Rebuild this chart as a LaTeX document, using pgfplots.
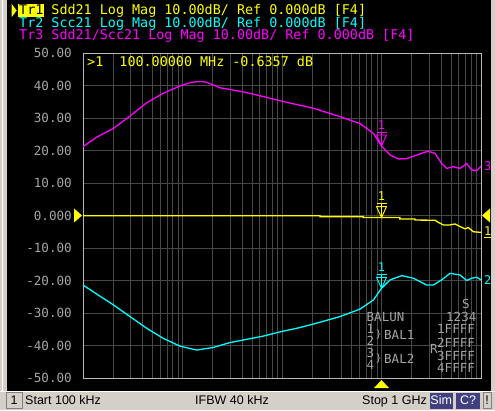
\documentclass[border=0pt]{standalone}
\usepackage{fontspec}
\setmainfont{Liberation Sans}
\newfontfamily\mono{DejaVu Sans Mono}
\usepackage{pgfplots}
\pgfplotsset{compat=1.18}
\definecolor{gridc}{RGB}{72,72,72}
\definecolor{framec}{RGB}{185,185,185}
\definecolor{lbl}{RGB}{165,165,165}
\definecolor{winbg}{RGB}{212,208,200}
\definecolor{simblue}{RGB}{64,64,128}
\definecolor{tyel}{RGB}{255,255,0}
\definecolor{tcya}{RGB}{0,255,255}
\definecolor{tmag}{RGB}{255,0,255}
\begin{document}
\begin{tikzpicture}[x=1pt,y=1pt]
\path[use as bounding box] (0,0) rectangle (495,410);
\fill[black] (0,0) rectangle (495,410);
\fill[winbg] (0,0) rectangle (7,410);
\draw[white,line width=1pt] (2.5,19) -- (2.5,410);
\fill[winbg] (491,0) rectangle (495,410);
\fill[winbg] (0,0) rectangle (495,19);
\draw[white,line width=0.8pt] (0,18.6) -- (495,18.6);
% status bar items
\draw[gray,line width=0.8pt] (6,1.5) rectangle (22,17.5);
\node[anchor=base,inner sep=0pt,font=\fontsize{12.5}{13}\selectfont] at (14,5.7) {1};
\node[anchor=base west,inner sep=0pt,font=\fontsize{12.5}{13}\selectfont] at (25,5.7) {Start 100 kHz};
\node[anchor=base west,inner sep=0pt,font=\fontsize{12.5}{13}\selectfont] at (195,5.7) {IFBW 40 kHz};
\node[anchor=base west,inner sep=0pt,font=\fontsize{12.5}{13}\selectfont] at (362,5.7) {Stop 1 GHz};
\fill[simblue] (430,1.5) rectangle (452.5,17.5);
\node[anchor=base,inner sep=0pt,text=white,font=\fontsize{12.5}{13}\selectfont] at (441.2,5.7) {Sim};
\fill[simblue] (456,1.5) rectangle (480,17.5);
\node[anchor=base,inner sep=0pt,text=white,font=\fontsize{12.5}{13}\selectfont] at (468,5.7) {C?};
\draw[gray,line width=0.8pt] (483,1.5) rectangle (491,17.5);
\node[anchor=base,inner sep=0pt,font=\fontsize{12.5}{13}\selectfont] at (487,5.7) {!};

\begin{axis}[
  at={(83pt,32pt)}, anchor=south west,
  width=398pt, height=325pt, scale only axis,
  xmode=log, xmin=1e5, xmax=1e9, ymin=-50, ymax=50,
  xtick={1e5,1e6,1e7,1e8,1e9},
  minor xtick={2e5,3e5,4e5,5e5,6e5,7e5,8e5,9e5,2e6,3e6,4e6,5e6,6e6,7e6,8e6,9e6,2e7,3e7,4e7,5e7,6e7,7e7,8e7,9e7,2e8,3e8,4e8,5e8,6e8,7e8,8e8,9e8},
  ytick={-50,-40,...,50},
  xticklabels={},
  yticklabels={-50.00,-40.00,-30.00,-20.00,-10.00,0.000,10.00,20.00,30.00,40.00,50.00},
  yticklabel style={text=lbl,font=\mono\fontsize{12.6}{13}\selectfont,anchor=east,inner sep=0pt,xshift=-11pt},
  xmajorgrids, xminorgrids, ymajorgrids,
  major grid style={draw=gridc,line width=0.9pt},
  minor grid style={draw=gridc,line width=0.9pt},
  major tick length=0pt, minor tick length=0pt,
  tick style={draw=none},
  axis line style={draw=framec,line width=0.9pt},
  axis background/.style={fill=black},
  clip=false,
]
% Tr3 Sdd21/Scc21 (magenta)
\addplot[tmag,line width=1.3pt] coordinates {
(1e5,21.2)(1.37e5,24.1)(2.02e5,26.8)(2.97e5,30.6)(4.37e5,34.7)(6.41e5,37.6)(9.44e5,39.85)(1.2e6,40.9)(1.39e6,41.2)(1.7e6,41.1)(2.04e6,40.15)(2.38e6,39.3)(3.0e6,38.8)(4.42e6,37.8)(6.49e6,36.6)(9.55e6,35.3)(2.07e7,33.0)(3.83e7,30.4)(4.47e7,29.7)(6.08e7,28.3)(8.28e7,25.3)(1.0e8,21.4)(1.22e8,18.6)(1.48e8,17.4)(1.79e8,17.5)(2.26e8,18.6)(2.95e8,19.8)(3.45e8,19.1)(4.03e8,16.0)(4.52e8,14.5)(5.27e8,15.0)(6.15e8,14.5)(7.18e8,16.0)(8.05e8,14.0)(9.06e8,13.8)(1e9,15.2)
};
% Tr1 Sdd21 (yellow)
\addplot[tyel,line width=1.3pt] coordinates {
(1e5,-0.05)(2.41e7,-0.05)(2.41e7,-0.35)(6.56e7,-0.35)(6.56e7,-0.64)(1.53e8,-0.64)(1.53e8,-1.05)(2.17e8,-1.05)(2.17e8,-1.4)(3.45e8,-1.45)(3.72e8,-2.1)(4.18e8,-2.9)(4.88e8,-2.9)(5.48e8,-2.6)(6.15e8,-3.4)(6.9e8,-4.1)(7.45e8,-3.7)(8.37e8,-5.0)(1e9,-5.2)
};
% Tr2 Scc21 (cyan)
\addplot[tcya,line width=1.3pt] coordinates {
(1e5,-21.4)(2.02e5,-27.5)(2.97e5,-31.1)(4.37e5,-34.7)(6.41e5,-37.8)(9.44e5,-40.2)(1.39e6,-41.4)(2.04e6,-40.6)(3.0e6,-39.1)(4.42e6,-38.1)(6.49e6,-37.1)(9.55e6,-35.8)(1.41e7,-34.7)(2.07e7,-33.4)(3.83e7,-31.1)(6.08e7,-28.8)(8.28e7,-26.0)(1.0e8,-22.4)(1.22e8,-19.8)(1.6e8,-18.5)(2.09e8,-19.3)(2.84e8,-21.4)(3.32e8,-21.4)(4.03e8,-19.8)(4.88e8,-17.8)(6.15e8,-18.3)(7.18e8,-20.0)(8.05e8,-19.3)(9.06e8,-19.0)(1e9,-19.8)
};
% markers at 100 MHz
\foreach \v/\c in {21.4/tmag,-0.64/tyel,-22.4/tcya}{
  \edef\tmp{\noexpand\draw[\c,line width=0.9pt] (axis cs:1e8,\v) -- ++(-5pt,11pt) -- ++(10pt,0pt) -- cycle;
    \noexpand\draw[\c,line width=0.9pt] (axis cs:1e8,\v) ++(-5pt,14pt) -- ++(10pt,0pt);
    \noexpand\draw[\c,line width=0.9pt] (axis cs:1e8,\v) -- ++(0pt,14pt);
    \noexpand\node[text=\c,font=\noexpand\mono\noexpand\fontsize{12}{12}\noexpand\selectfont,inner sep=0pt] at ([yshift=21pt]axis cs:1e8,\v) {1};}
  \tmp
}
% trace end labels
\node[anchor=west,inner sep=0pt,text=tmag,font=\mono\fontsize{12}{12}\selectfont] at ([xshift=3pt]axis cs:1e9,15.2) {3};
\node[anchor=west,inner sep=0pt,text=tyel,font=\mono\fontsize{12}{12}\selectfont] at ([xshift=3pt]axis cs:1e9,-5.2) {\underline{1}};
\node[anchor=west,inner sep=0pt,text=tcya,font=\mono\fontsize{12}{12}\selectfont] at ([xshift=3pt]axis cs:1e9,-19.8) {2};
% reference triangles at 0 dB
\fill[tyel] ([xshift=-1pt]axis cs:1e5,0) -- ++(-8pt,7pt) -- ++(0pt,-14pt) -- cycle;
\fill[tyel] ([xshift=1pt]axis cs:1e9,0) -- ++(8pt,7pt) -- ++(0pt,-14pt) -- cycle;
% stimulus marker at bottom
\fill[tyel] ([yshift=-2pt]axis cs:1e8,-50) -- ++(-7.5pt,-8pt) -- ++(15pt,0pt) -- cycle;
% marker readout
\node[anchor=base west,inner sep=0pt,text=tyel,font=\mono\fontsize{13.4}{14}\selectfont] at (rel axis cs:0,1) [xshift=4pt,yshift=-13.5pt] {>1\ \ 100.00000 MHz -0.6357 dB};
\end{axis}

% header
\fill[tyel] (11.7,406) -- (11.7,393) -- (16.7,399.5) -- cycle;
\fill[tyel] (18.3,393) rectangle (43.8,406.3);
\node[anchor=base west,inner sep=0pt,font=\mono\fontsize{13.4}{14}\selectfont] at (19,395) {\textcolor{black}{Tr1}\textcolor{tyel}{\ Sdd21 Log Mag 10.00dB/ Ref 0.000dB [F4]}};
\node[anchor=base west,inner sep=0pt,text=tcya,font=\mono\fontsize{13.4}{14}\selectfont] at (19,382.5) {Tr2 Scc21 Log Mag 10.00dB/ Ref 0.000dB [F4]};
\node[anchor=base west,inner sep=0pt,text=tmag,font=\mono\fontsize{13.4}{14}\selectfont] at (19,370.3) {Tr3 Sdd21/Scc21 Log Mag 10.00dB/ Ref 0.000dB [F4]};

% BALUN block
\begin{scope}[every node/.style={inner sep=0pt,text=lbl,font=\mono\fontsize{12.5}{13}\selectfont}]
\node[anchor=west] at (462,106) {S};
\node[anchor=west] at (446,93) {1234};
\node[anchor=west] at (437,81) {1FFFF};
\node[anchor=west] at (437,67) {2FFFF};
\node[anchor=west] at (437,54) {3FFFF};
\node[anchor=west] at (437,42) {4FFFF};
\node[anchor=west] at (430,61) {R};
\node[anchor=west] at (366.5,93) {BALUN};
\node[anchor=west] at (366.5,81) {1};
\node[anchor=west] at (366.5,69) {2};
\node[anchor=west] at (366.5,57) {3};
\node[anchor=west] at (366.5,45) {4};
\node[anchor=west,font=\mono\fontsize{10}{10}\selectfont] at (375.5,75) {\}};
\node[anchor=west,font=\mono\fontsize{10}{10}\selectfont] at (375.5,51) {\}};
\node[anchor=west] at (384,75) {BAL1};
\node[anchor=west] at (384,51) {BAL2};
\end{scope}
\end{tikzpicture}
\end{document}
